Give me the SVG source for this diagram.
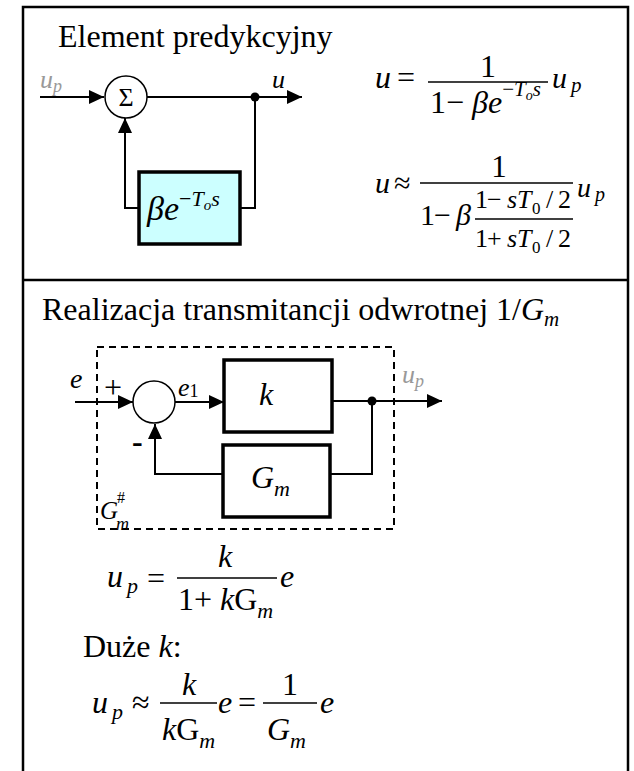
<svg xmlns="http://www.w3.org/2000/svg" width="634" height="771" viewBox="0 0 634 771">
<style>
.t{font-family:"Liberation Serif","Times New Roman",serif;fill:#000}
.i{font-style:italic}
.g{fill:#999999}
.ln{stroke:#000;stroke-width:2;fill:none}
.box{stroke:#000;stroke-width:3.5}
.bar{stroke:#000;stroke-width:1.5}
.frame{stroke:#000;stroke-width:2.5;fill:none}
</style>
<defs>
<marker id="arr" markerUnits="userSpaceOnUse" markerWidth="16" markerHeight="14" refX="15" refY="7" orient="auto">
<path d="M0,0 L15,7 L0,14 z" fill="#000"/>
</marker>
</defs>
<rect x="0" y="0" width="634" height="771" fill="#fff"/>
<g id="frame">
<path class="frame" d="M23,771 V7 H628 V771"/>
<line class="frame" x1="23" y1="280" x2="628" y2="280"/>
</g>
<g id="title1"><text class="t" x="58" y="47" font-size="32">Element predykcyjny</text></g>
<g id="connectors">
<line class="ln" x1="40" y1="97" x2="104" y2="97" marker-end="url(#arr)"/>
<line class="ln" x1="147" y1="97" x2="302" y2="97" marker-end="url(#arr)"/>
<polyline class="ln" points="255,97 255,208 240,208"/>
<polyline class="ln" points="139,208 125,208 125,118" marker-end="url(#arr)"/>
<line class="ln" x1="75" y1="402" x2="133" y2="402" marker-end="url(#arr)"/>
<line class="ln" x1="175" y1="402" x2="224" y2="402" marker-end="url(#arr)"/>
<line class="ln" x1="332" y1="401" x2="442" y2="401" marker-end="url(#arr)"/>
<polyline class="ln" points="372,401 372,474 330,474"/>
<polyline class="ln" points="223,474 155,474 155,424" marker-end="url(#arr)"/>
<circle cx="255" cy="97" r="4.5" fill="#000"/>
<circle cx="372" cy="401" r="4.5" fill="#000"/>
</g>
<g id="label-up1"><text class="t i g" x="40" y="88" font-size="26">u<tspan font-size="18" dy="4">p</tspan></text></g>
<g id="label-u1"><text class="t i" x="272" y="88" font-size="26">u</text></g>
<g id="sum1">
<circle cx="126" cy="97" r="21" fill="#fff" stroke="#000" stroke-width="1.5"/>
<text class="t" x="126" y="106" font-size="26" text-anchor="middle">Σ</text>
</g>
<g id="delay">
<rect class="box" x="139" y="172" width="101" height="72" fill="#CCFFFF"/>
<text class="t i" x="147" y="220" font-size="34">βe<tspan font-size="22" font-style="normal" dy="-14">−</tspan><tspan font-size="22">T</tspan><tspan font-size="15" dy="4">o</tspan><tspan font-size="22" dy="-4">s</tspan></text>
</g>
<g id="eq1">
<text class="t i" x="375" y="88" font-size="32">u</text>
<text class="t" x="397" y="88" font-size="32">=</text>
<line class="bar" x1="428" y1="82" x2="548" y2="82"/>
<text class="t" x="488" y="77" font-size="32" text-anchor="middle">1</text>
<text class="t" x="430" y="113" font-size="32">1− <tspan font-style="italic">βe</tspan><tspan font-size="21" dy="-17">−</tspan><tspan font-size="21" font-style="italic">T</tspan><tspan font-size="14" font-style="italic" dy="4">o</tspan><tspan font-size="21" font-style="italic" dy="-4">s</tspan></text>
<text class="t i" x="552" y="88" font-size="30">u<tspan font-size="21" dx="4" dy="4">p</tspan></text>
</g>
<g id="eq2">
<text class="t i" x="375" y="193" font-size="30">u</text>
<text class="t" x="394" y="193" font-size="30">≈</text>
<line class="bar" x1="420" y1="183" x2="573" y2="183"/>
<text class="t" x="499" y="177" font-size="31" text-anchor="middle">1</text>
<text class="t" y="225" font-size="30"><tspan x="420">1</tspan><tspan x="434">−</tspan><tspan x="456" font-style="italic">β</tspan></text>
<line class="bar" x1="475" y1="219" x2="573" y2="219"/>
<text class="t" y="208" font-size="26"><tspan x="475">1</tspan><tspan x="487">−</tspan><tspan x="507" font-style="italic">s</tspan><tspan x="517" font-style="italic">T</tspan><tspan x="532" y="214" font-size="17">0</tspan><tspan x="546" y="208">/</tspan><tspan x="558">2</tspan></text>
<text class="t" y="247" font-size="26"><tspan x="475">1</tspan><tspan x="487">+</tspan><tspan x="507" font-style="italic">s</tspan><tspan x="517" font-style="italic">T</tspan><tspan x="532" y="253" font-size="17">0</tspan><tspan x="546" y="247">/</tspan><tspan x="558">2</tspan></text>
<text class="t i" x="577" y="197" font-size="28">u<tspan font-size="20" dx="4" dy="4">p</tspan></text>
</g>
<g id="title2"><text class="t" x="42" y="320" font-size="32">Realizacja transmitancji odwrotnej 1/<tspan font-style="italic">G</tspan><tspan font-style="italic" font-size="21" dy="6">m</tspan></text></g>
<g id="ginv">
<rect x="97" y="347" width="297" height="182" fill="none" stroke="#000" stroke-width="2" stroke-dasharray="7,5"/>
<text class="t i" x="100" y="519" font-size="25">G</text>
<text class="t" x="117" y="503" font-size="16">#</text>
<text class="t i" x="116" y="530" font-size="18">m</text>
</g>
<g id="label-e"><text class="t i" x="70" y="388" font-size="28">e</text></g>
<g id="label-plus"><text class="t" x="104" y="398" font-size="32">+</text></g>
<g id="label-minus"><text class="t" x="132" y="452" font-size="32" font-weight="bold">-</text></g>
<g id="label-e1"><text class="t i" x="178" y="396" font-size="26">e<tspan font-style="normal" font-size="18" dy="1">1</tspan></text></g>
<g id="label-up2"><text class="t i g" x="402" y="383" font-size="26">u<tspan font-size="18" dy="4">p</tspan></text></g>
<g id="sum2"><circle cx="154" cy="402" r="21" fill="#fff" stroke="#000" stroke-width="1.5"/></g>
<g id="gain-k">
<rect class="box" x="224" y="360" width="108" height="72" fill="#fff"/>
<text class="t i" x="259" y="405" font-size="32">k</text>
</g>
<g id="model-gm">
<rect class="box" x="223" y="445" width="107" height="72" fill="#fff"/>
<text class="t i" x="251" y="488" font-size="32">G<tspan font-size="22" dy="8">m</tspan></text>
</g>
<g id="eq3">
<text class="t i" x="107" y="587" font-size="32">u<tspan font-size="22" dx="4" dy="6">p</tspan></text>
<text class="t" x="147" y="589" font-size="32">=</text>
<line class="bar" x1="177" y1="578" x2="277" y2="578"/>
<text class="t i" x="218" y="567" font-size="32">k</text>
<text class="t" x="178" y="610" font-size="32">1+ <tspan font-style="italic">k</tspan>G<tspan font-style="italic" font-size="22" dy="8">m</tspan></text>
<text class="t i" x="280" y="587" font-size="32">e</text>
</g>
<g id="duze"><text class="t" x="83" y="657" font-size="32">Duże <tspan font-style="italic">k</tspan>:</text></g>
<g id="eq4">
<text class="t i" x="92" y="713" font-size="32">u<tspan font-size="22" dx="4" dy="6">p</tspan></text>
<text class="t" x="132" y="713" font-size="32">≈</text>
<line class="bar" x1="160" y1="703" x2="217" y2="703"/>
<text class="t i" x="182" y="695" font-size="32">k</text>
<text class="t" x="162" y="740" font-size="32"><tspan font-style="italic">k</tspan>G<tspan font-style="italic" font-size="22" dy="8">m</tspan></text>
<text class="t i" x="218" y="713" font-size="32">e</text>
<text class="t" x="238" y="713" font-size="32">=</text>
<line class="bar" x1="263" y1="703" x2="317" y2="703"/>
<text class="t" x="290" y="695" font-size="32" text-anchor="middle">1</text>
<text class="t i" x="267" y="740" font-size="32">G<tspan font-size="22" dy="8">m</tspan></text>
<text class="t i" x="320" y="713" font-size="32">e</text>
</g>
</svg>
